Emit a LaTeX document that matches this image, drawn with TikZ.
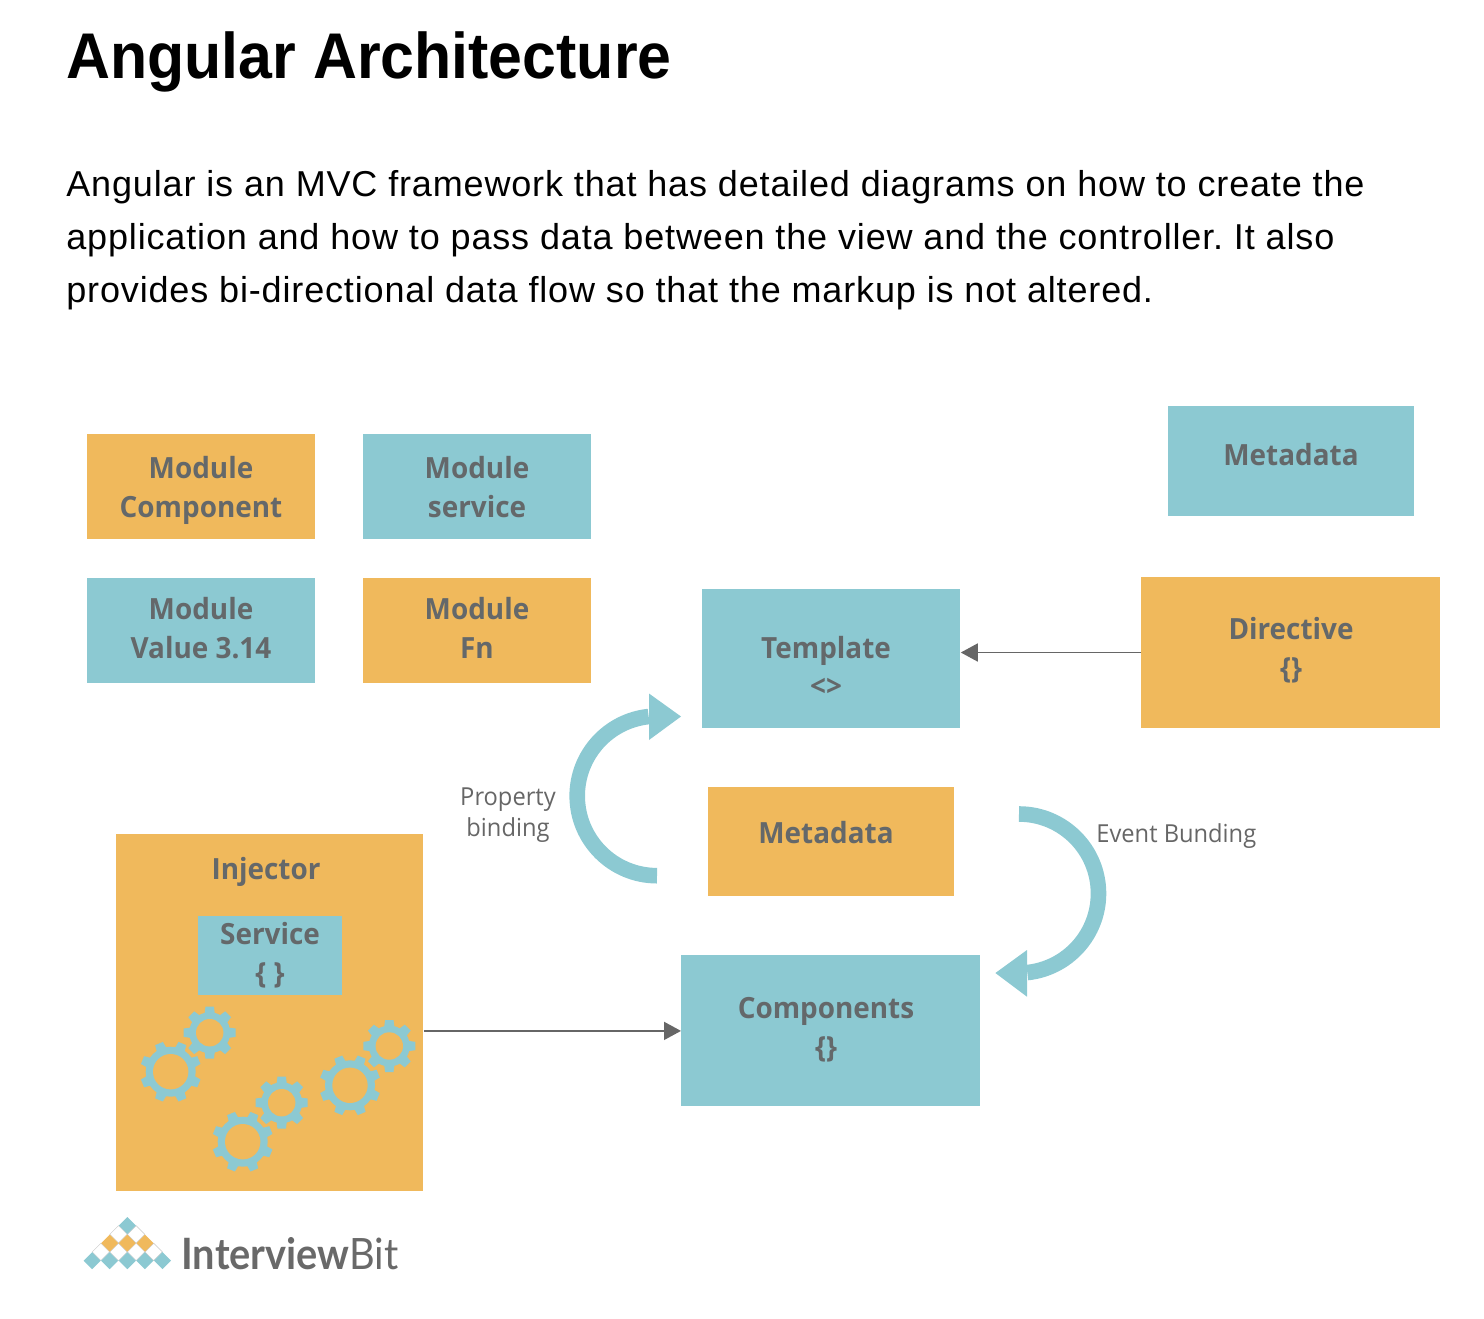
\documentclass[tikz,border=0pt]{standalone}
\usepackage{fontspec}
\setmainfont{Liberation Sans}
\newfontfamily\diafont{Open Sans}[FakeStretch=0.955]
\newfontfamily\lightdia{Open Sans}[FakeStretch=0.955]
\newfontfamily\logofont{Lato}[FakeStretch=0.92]
\usetikzlibrary{arrows.meta,calc}
\frenchspacing
\definecolor{teal}{HTML}{8CC9D2}
\definecolor{orangeb}{HTML}{F0B95C}
\definecolor{inkg}{HTML}{64686A}
\definecolor{lineg}{HTML}{666666}
\definecolor{logog}{HTML}{696969}
\tikzset{
  tbox/.style={fill=teal,draw=none,inner sep=0pt,anchor=north west},
  obox/.style={fill=orangeb,draw=none,inner sep=0pt,anchor=north west},
  lab/.style={font=\diafont\fontsize{14.6}{19.5}\selectfont\bfseries,text=inkg,align=center,inner sep=0pt},
  lab1/.style={font=\lightdia\fontsize{12.4}{15.5}\selectfont,text=lineg,align=center,inner sep=0pt},
  conn/.style={draw=lineg,line width=0.85pt,-{Triangle[length=8.5pt,width=9pt]}},
  curve/.style={draw=teal,line width=7.8pt},
  head/.style={fill=teal,draw=none},
  para/.style={font=\fontsize{18}{26.5}\selectfont\addfontfeatures{LetterSpace=2.35},anchor=base west,inner sep=0pt}
}
% gear: x, y, hole radius, ring radius, tip radius, first tooth angle
\newcommand{\gearat}[6]{%
  \foreach \a in {0,45,...,315}{
    \fill[teal,rotate around={\a+#6:(#1,#2)}] ($(#1,#2)+(#4-2,-5.2)$) -- ++(#5-#4+2,1) -- ++(0,8.4) -- ++(#4-#5-2,1) -- cycle;
  }
  \fill[teal] (#1,#2) circle[radius=#4];
  \fill[orangeb] (#1,#2) circle[radius=#3];
}
% logo diamond on the 8.8 px grid: column, row, colour
\newcommand{\dia}[3]{\fill[#3] (127.3+#1*8.8,1225.5+#2*8.8) ++(-8.5,0) -- ++(8.5,-8.5) -- ++(8.5,8.5) -- ++(-8.5,8.5) -- cycle;}
\newcommand{\diw}[2]{\filldraw[fill=white,draw=black!22,line width=0.25pt] (127.3+#1*8.8,1225.5+#2*8.8) ++(-8.7,0) -- ++(8.7,-8.7) -- ++(8.7,8.7) -- ++(-8.7,8.7) -- cycle;}
\begin{document}
\begin{tikzpicture}[x=0.5pt,y=-0.5pt]
\useasboundingbox (0,0) rectangle (1484,1318);
% heading and paragraph
\node[anchor=base west,inner sep=0pt,font=\fontsize{32.3}{36}\selectfont\bfseries\addfontfeatures{FakeStretch=0.942}] (title) at (66,78) {Angular Architecture};
\node[para] (p1) at (66,196) {Angular is an MVC framework that has detailed diagrams on how to create the};
\node[para] (p2) at (66,249) {application and how to pass data between the view and the controller. It also};
\node[para] (p3) at (66,302) {provides bi-directional data flow so that the markup is not altered.};
% module boxes
\node[obox,minimum width=114pt,minimum height=52.5pt] (mc) at (87,434) {};
\node[tbox,minimum width=114pt,minimum height=52.5pt] (ms) at (363,434) {};
\node[tbox,minimum width=114pt,minimum height=52.5pt] (mv) at (87,578) {};
\node[obox,minimum width=114pt,minimum height=52.5pt] (mf) at (363,578) {};
\node[lab] (mct) at (201,490.5) {Module\\Component};
\node[lab] (mst) at (477,487.5) {Module\\service};
\node[lab] (mvt) at (201,628.5) {Module\\Value 3.14};
\node[lab] (mft) at (477,627.5) {Module\\Fn};
% right column
\node[tbox,minimum width=123pt,minimum height=55pt] (meta1) at (1168,406) {};
\node[lab] (meta1t) at (1291,455) {Metadata};
\node[tbox,minimum width=129pt,minimum height=69.5pt] (tmpl) at (702,589) {};
\node[lab] (tmplt) at (826,666.5) {Template\\[-0.5pt]<>};
\node[obox,minimum width=149.5pt,minimum height=75.5pt] (dir) at (1141,577) {};
\node[lab] (dirt) at (1291,650.5) {Directive\\\{\}};
\node[obox,minimum width=123pt,minimum height=54.5pt] (meta2) at (708,787) {};
\node[lab] (meta2t) at (826,833) {Metadata};
\node[tbox,minimum width=149.5pt,minimum height=75.5pt] (comp) at (681,955) {};
\node[lab] (compt) at (826,1030) {Components\\\{\}};
% injector
\node[obox,minimum width=153.5pt,minimum height=178.5pt] (inj) at (116,834) {};
\node[lab] (injt) at (266,872) {Injector};
\node[tbox,minimum width=72pt,minimum height=39.5pt] (svc) at (198,916) {};
\node[lab] (svct) at (270,955) {Service\\\{ \}};
\gearat{170.7}{1071.7}{17.7}{25}{30.5}{22.5}
\gearat{209.7}{1032.7}{13.7}{20.5}{26}{0}
\gearat{242.7}{1141.7}{17.7}{25}{30.5}{22.5}
\gearat{281.7}{1102.7}{13.7}{20.5}{26}{0}
\gearat{350}{1085.3}{17.7}{25}{30.5}{22.5}
\gearat{389.3}{1046}{13.7}{20.5}{26}{0}
% connectors
\draw[conn] (dir.west |- 0,652.5) coordinate (d1) -- (tmpl.east |- d1);
\draw[conn] (inj.east |- comp.west) -- (comp.west);
% curved arrows
\draw[curve] (657,875.7) arc[start angle=90,end angle=264,radius=79.8];
\fill[head] (649,693.5) -- (681,716.5) -- (649,740) -- cycle;
\draw[curve] (1019,814) arc[start angle=-90,end angle=84,radius=79.5];
\fill[head] (1027,950) -- (995.4,973) -- (1027,996.7) -- cycle;
% arrow labels
\node[lab1] (pb) at (508,815) {Property\\binding};
\node[lab1,anchor=west] (eb) at (1096,836) {Event Bunding};
% logo
\diw{-1}{1}\diw{1}{1}
\diw{-3}{3}\diw{-1}{3}\diw{1}{3}\diw{3}{3}
\dia{0}{0}{teal}
\dia{-2}{2}{orangeb}\dia{0}{2}{orangeb}\dia{2}{2}{orangeb}
\dia{-4}{4}{teal}\dia{-2}{4}{teal}\dia{0}{4}{teal}\dia{2}{4}{teal}\dia{4}{4}{teal}
\node[anchor=base west,inner sep=0pt,text=logog,font=\logofont\fontsize{21.6}{24}\selectfont] (logo) at (181,1269) {\textbf{Interview}Bit};
\end{tikzpicture}
\end{document}
